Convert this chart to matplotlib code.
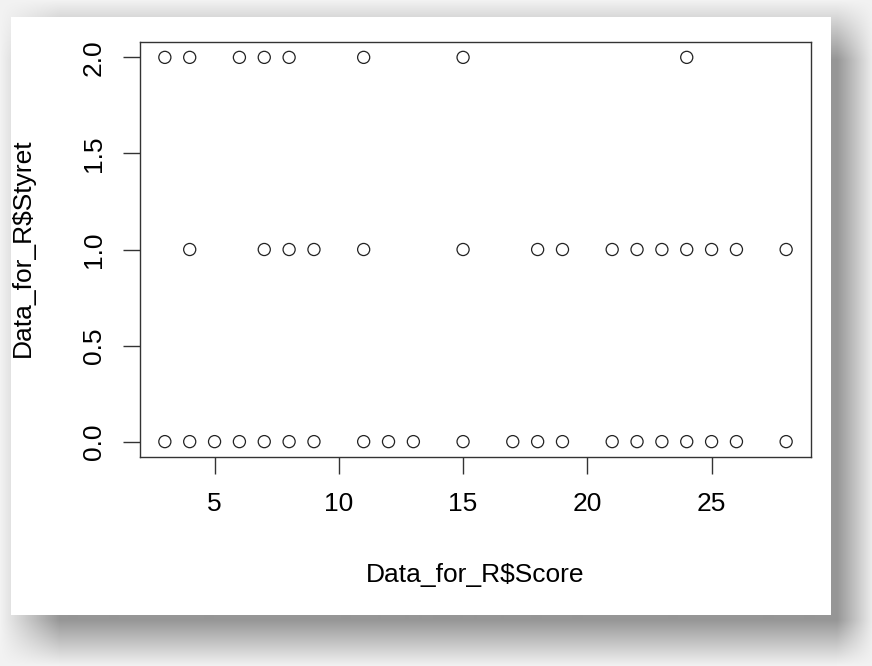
import numpy as np
import matplotlib
matplotlib.use("Agg")
import matplotlib.pyplot as plt
from matplotlib.patches import Rectangle

# values
score_0 = [3, 4, 5, 6, 7, 8, 9, 11, 12, 13, 15, 17, 18, 19, 21, 22, 23, 24, 25, 26, 28]
score_1 = [4, 7, 8, 9, 11, 15, 18, 19, 21, 22, 23, 24, 25, 26, 28]
score_2 = [3, 4, 6, 7, 8, 11, 15, 24]

score = score_0 + score_1 + score_2
styret = [0] * len(score_0) + [1] * len(score_1) + [2] * len(score_2)

x_ticks = [5, 10, 15, 20, 25]
y_ticks = [0.0, 0.5, 1.0, 1.5, 2.0]

W, H = 872, 666
plt.rcParams["font.family"] = ["Liberation Sans", "DejaVu Sans"]
plt.rcParams["font.size"] = 19

fig = plt.figure(figsize=(W / 100, H / 100), dpi=100)

# screenshot backdrop: light gray page with a soft drop shadow behind a white panel
bg = fig.add_axes([0, 0, 1, 1], zorder=-5)
px = np.arange(W) + 0.5
py = np.arange(H) + 0.5
sx = np.clip(px / 60.0, 0, 1) * np.clip(1 - (px - 836) / 38.0, 0, 1)
sy = np.clip(py / 60.0, 0, 1) * np.clip(1 - (py - 620) / 46.0, 0, 1)
alpha = np.outer(sy, sx)
gray = (0xf3 - (0xf3 - 0x96) * alpha) / 255.0
img = np.dstack([gray, gray, gray])
bg.imshow(img, extent=(0, W, H, 0), aspect="auto", interpolation="bilinear")
bg.add_patch(Rectangle((11, 17), 820, 598, facecolor="white", edgecolor="none"))
bg.set_xlim(0, W)
bg.set_ylim(H, 0)
bg.axis("off")

left, right, top, bottom = 140, 811, 42, 457
ax = fig.add_axes([left / W, (H - bottom) / H, (right - left) / W, (bottom - top) / H])
ax.set_facecolor("white")
ax.scatter(score, styret, s=76, facecolors="none", edgecolors="#222222", linewidths=0.9)

ax.set_xlim(2, 29)
ax.set_ylim(-0.08, 2.08)
ax.set_xticks(x_ticks)
ax.set_yticks(y_ticks)
ax.set_yticklabels([f"{v:.1f}" for v in y_ticks])
ax.tick_params(axis="both", direction="out", length=12, width=1, color="#333333", labelcolor="black")
ax.tick_params(axis="x", pad=13)
ax.tick_params(axis="y", pad=12.5, labelrotation=90)
for lab in ax.get_yticklabels():
    lab.set_va("center")
for sp in ax.spines.values():
    sp.set_linewidth(1)
    sp.set_color("#333333")

ax.set_xlabel("Data_for_R$Score", color="black")
ax.xaxis.label.set_va("center")
ax.xaxis.set_label_coords(0.5, (bottom - 575) / (bottom - top))
ax.set_ylabel("Data_for_R$Styret", color="black")
ax.yaxis.label.set_va("center")
ax.yaxis.set_label_coords((23 - left) / (right - left), 0.505)

fig.savefig("out.png", dpi=100)
